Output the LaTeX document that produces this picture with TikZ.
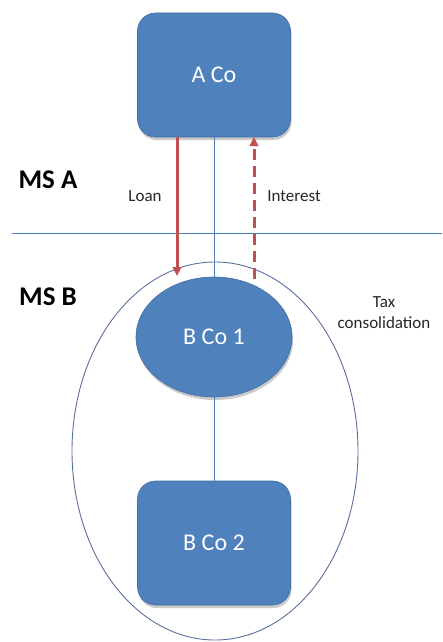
\documentclass[tikz,border=0pt]{standalone}
\usepackage{fontspec}
\setmainfont{Carlito}
\usetikzlibrary{arrows.meta,shapes.geometric,shadows}
\definecolor{coblue}{HTML}{4F81BD}
\definecolor{linkblue}{HTML}{4A7EBB}
\definecolor{flowred}{HTML}{C0504D}
\definecolor{ringblue}{HTML}{5A6E9E}
\tikzset{
  company/.style={fill=coblue, draw=coblue!85!black, line width=0.6pt,
    text=white, font=\fontsize{24}{28}\selectfont,
    drop shadow={shadow xshift=1pt, shadow yshift=-3pt, opacity=0.35, fill=black!60}},
  cobox/.style={company, rectangle, rounded corners=18pt,
    minimum width=153pt, minimum height=124pt},
  coellipse/.style={company, ellipse, minimum width=156pt, minimum height=120pt, inner sep=0pt},
  link/.style={draw=linkblue, line width=0.8pt},
  flow/.style={draw=flowred, line width=3pt, -{Triangle[length=9pt,width=8.5pt]}},
  label/.style={font=\fontsize{17}{21}\selectfont, text=black!85, align=center},
  region/.style={font=\bfseries\fontsize{27}{30}\selectfont, text=black}
}
\begin{document}
\begin{tikzpicture}[x=1pt, y=-1pt]
  \useasboundingbox (0,0) rectangle (442,642);

  % tax consolidation group boundary
  \node[draw=ringblue, line width=0.9pt, ellipse, minimum width=286pt, minimum height=378pt, inner sep=0pt]
    (group) at (215,451) {};

  % member state divider
  \coordinate (divL) at (12,233);
  \coordinate (divR) at (442,233);
  \draw[link] (divL) -- (divR);

  % companies
  \node[cobox] (aco) at (214,75) {A Co};
  \node[coellipse] (bco1) at (214,337) {B Co 1};
  \node[cobox] (bco2) at (214,543) {B Co 2};

  % ownership links
  \draw[link] (aco.south) -- (bco1.north);
  \draw[link] (bco1.south) -- (bco2.north);

  % financing flows
  \coordinate (loanStart) at (177,137);
  \coordinate (loanEnd) at (177,276);
  \coordinate (intStart) at (254,279);
  \coordinate (intEnd) at (254,137);
  \draw[flow] (loanStart) -- (loanEnd);
  \draw[flow, dash pattern=on 11pt off 6pt] (intStart) -- (intEnd);

  % labels
  \node[label] (loan) at (145,196) {Loan};
  \node[label] (interest) at (294,196) {Interest};
  \node[label] (tax) at (384,313) {Tax\\consolidation};
  \node[region] (msa) at (48,180) {MS A};
  \node[region] (msb) at (48,297) {MS B};
\end{tikzpicture}
\end{document}
